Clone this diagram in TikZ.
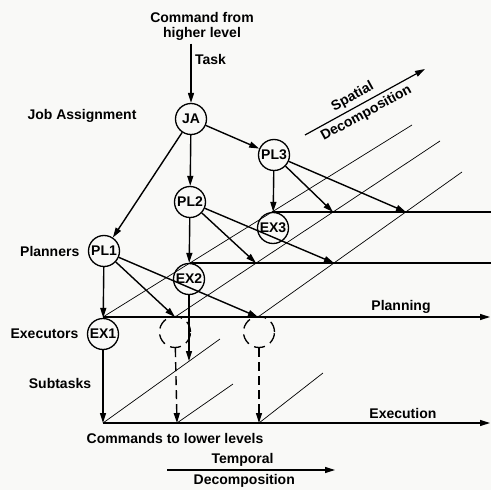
\documentclass[tikz,border=0pt]{standalone}
\usepackage{fontspec}
\setmainfont{Liberation Sans}
\usetikzlibrary{arrows.meta, positioning}
\definecolor{paper}{RGB}{249,249,247}

\begin{document}
\begin{tikzpicture}[
    x=1pt, y=-1pt,
    every node/.style={
        font=\fontsize{14}{15}\selectfont\bfseries
    },
    unit/.style={draw, circle, line width=1.3pt, minimum size=31pt, inner sep=0pt},
    ghost/.style={unit, dash pattern=on 11pt off 6pt},
    arrow/.style={-{Triangle[length=10pt, width=6pt]}, line width=1.4pt},
    dasharrow/.style={arrow, dash pattern=on 9pt off 5pt},
    plane/.style={line width=1.2pt},
    diag/.style={line width=0.7pt}
]

\fill[paper] (0,0) rectangle (491,490);
\useasboundingbox (0,0) rectangle (491,490);

% ---------- UNITS
\node (JA) [unit] at (191,119) {JA};
\node (PL1) [unit] at (104,251) {PL1};
\node (PL2) [unit] at (190,202) {PL2};
\node (PL3) [unit] at (274,155) {PL3};
\node (EX1) [unit] at (103,334) {EX1};
\node (EX2) [unit] at (189,279) {EX2};
\node (EX3) [unit] at (273,228) {EX3};
\node (G1) [ghost] at (175,332) {};
\node (G2) [ghost] at (259,332) {};

% ---------- LABELS
\node (cmd) [align=center] at (202,26) {Command from\\higher level};
\node (job) at (82,116) {Job Assignment};
\node (plan) [left=5pt of PL1] {Planners};
\node (exec) [left=5pt of EX1] {Executors};
\node (sub) at (60,383) {Subtasks};
\node (lower) at (175,438) {Commands to lower levels};

% ---------- PLANES (points on them)
\coordinate (p1a) at (103,317);
\coordinate (p1b) at (175,317);
\coordinate (p1c) at (258,317);
\coordinate (p1e) at (490,317);
\coordinate (p2a) at (190,263);
\coordinate (p2b) at (256,263);
\coordinate (p2c) at (334,263);
\coordinate (p2e) at (491,263);
\coordinate (p3a) at (272,212);
\coordinate (p3b) at (333,212);
\coordinate (p3c) at (406,212);
\coordinate (p3e) at (491,212);
\coordinate (d1) at (412,125);
\coordinate (d2) at (440,141);
\coordinate (d3) at (462,172);

\coordinate (x1) at (103,423);
\coordinate (x2) at (177,423);
\coordinate (x3) at (259,423);
\coordinate (xe) at (490,423);
\coordinate (e1) at (220,339);
\coordinate (e2) at (233,384);
\coordinate (e3) at (323,373);
\coordinate (x2in) at (189,361);

\draw[plane] (p3a) -- (p3e);
\draw[plane] (p2a) -- (p2e);
\draw[arrow] (p1a) -- node[above, pos=0.77] {Planning} (p1e);
\draw[arrow] (x1) -- node[above, pos=0.775] {Execution} (xe);

\draw[diag] (p1a) -- (d1);
\draw[diag] (p1b) -- (d2);
\draw[diag] (p1c) -- (d3);
\draw[diag] (x1) -- (e1);
\draw[diag] (x2) -- (e2);
\draw[diag] (x3) -- (e3);

% ---------- TASK FLOW
\draw[arrow] (cmd.south -| JA) -- node[right, pos=0.27] {Task} (JA);
\draw[arrow] (JA) -- (PL1);
\draw[arrow] (JA) -- (PL2);
\draw[arrow] (JA) -- (PL3);

\draw[arrow] (PL1) -- (EX1);
\draw[arrow] (PL1) -- (p1b);
\draw[arrow] (PL1) -- (p1c);
\draw[arrow] (PL2) -- (EX2);
\draw[arrow] (PL2) -- (p2b);
\draw[arrow] (PL2) -- (p2c);
\draw[arrow] (PL3) -- (EX3);
\draw[arrow] (PL3) -- (p3b);
\draw[arrow] (PL3) -- (p3c);

% ---------- SUBTASKS
\draw[arrow] (EX1) -- (x1);
\draw[arrow] (EX2) -- (x2in);
\draw[dasharrow] (G1) -- (x2);
\draw[dasharrow] (G2) -- (x3);

% ---------- DECOMPOSITION AXES
\coordinate (s1) at (305,135);
\coordinate (s2) at (425,69);
\draw[arrow, line width=1.2pt] (s1) -- node[above, sloped, pos=0.44] {Spatial}
    node[below, sloped, pos=0.47] {Decomposition} (s2);
\coordinate (t1) at (167,470);
\coordinate (t2) at (335,470);
\draw[arrow, line width=1.2pt] (t1) -- node[above, pos=0.45] {Temporal}
    node[below, pos=0.46] {Decomposition} (t2);

\end{tikzpicture}
\end{document}
